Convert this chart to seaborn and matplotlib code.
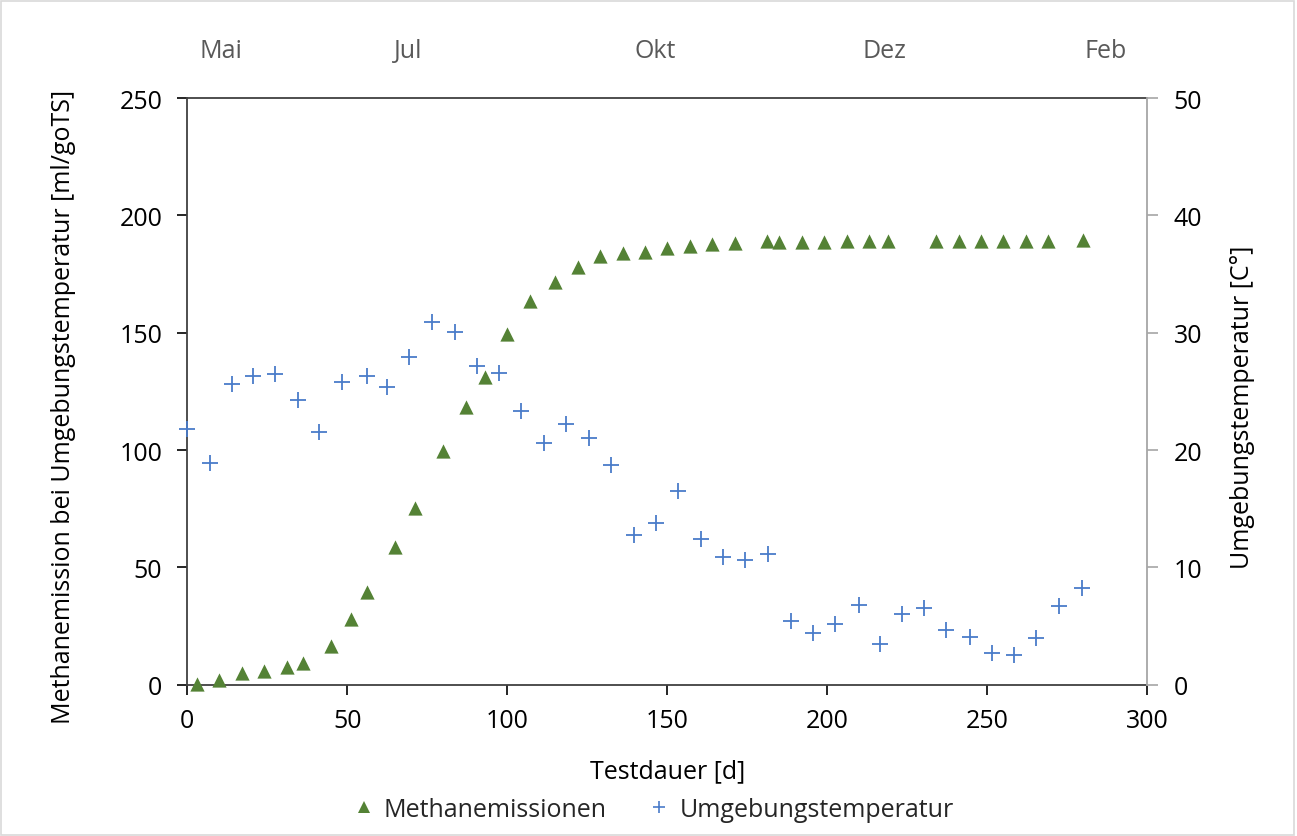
import matplotlib
matplotlib.use("Agg")
import matplotlib.pyplot as plt
import seaborn as sns
from matplotlib.patches import Rectangle
from matplotlib.lines import Line2D

# ---- data ----
methan_tage = [3, 10, 17, 24, 31, 36, 45, 51, 56, 65, 71, 80, 87, 93, 100, 107, 115, 122,
               129, 136, 143, 150, 157, 164, 171, 181, 185, 192, 199, 206, 213, 219, 234,
               241, 248, 255, 262, 269, 280]
methan_werte = [0.3, 2.1, 5.0, 6.0, 7.5, 9.2, 16.4, 28.0, 39.4, 58.8, 75.3, 99.5, 118.2,
                131.3, 149.4, 163.6, 171.8, 177.9, 182.7, 183.9, 184.4, 186.0, 187.1, 187.9,
                188.2, 189.0, 188.8, 188.7, 188.7, 189.3, 189.0, 189.0, 189.0, 189.0, 189.3,
                189.0, 189.3, 189.3, 189.7]
temp_tage = [0, 7, 14, 20.5, 27.5, 34.5, 41.3, 48.4, 56, 62.5, 69.4, 76.5, 83.6, 90.4, 97.5,
             104.4, 111.5, 118.3, 125.4, 132.5, 139.5, 146.5, 153.4, 160.4, 167.5, 174.3,
             181.3, 188.6, 195.4, 202.4, 209.8, 216.4, 223.4, 230.2, 237.2, 244.4, 251.5,
             258.4, 265.2, 272.3, 279.6]
temp_werte = [21.8, 18.9, 25.6, 26.3, 26.5, 24.3, 21.5, 25.8, 26.3, 25.4, 27.9, 30.9, 30.1,
              27.2, 26.6, 23.3, 20.6, 22.2, 21.0, 18.7, 12.8, 13.8, 16.5, 12.4, 10.9, 10.6,
              11.1, 5.4, 4.4, 5.2, 6.8, 3.5, 6.0, 6.5, 4.7, 4.1, 2.7, 2.5, 4.0, 6.7, 8.2]
monate = ["Mai", "Jul", "Okt", "Dez", "Feb"]
monat_pos = [10.5, 69, 146.2, 217.8, 286.8]
x_ticks = [0, 50, 100, 150, 200, 250, 300]
y_ticks = [0, 50, 100, 150, 200, 250]
y2_ticks = [0, 10, 20, 30, 40, 50]

GREEN = "#548235"
BLUE = "#4a7cc9"

sns.set_theme(style="white")
plt.rcParams["font.family"] = ["Open Sans", "DejaVu Sans"]

fig = plt.figure(figsize=(12.97, 8.37), dpi=100)
ax = fig.add_axes([0.1444, 0.1808, 0.7403, 0.7007])
ax2 = ax.twinx()

sns.scatterplot(x=methan_tage, y=methan_werte, marker="^", color=GREEN, s=105,
                linewidth=0, ax=ax, zorder=3, clip_on=False)
sns.scatterplot(x=temp_tage, y=temp_werte, marker="+", color=BLUE, s=140,
                linewidth=1.3, ax=ax2, zorder=3, clip_on=False)

ax.set_xlim(0, 300)
ax.set_ylim(0, 250)
ax2.set_ylim(0, 50)
ax.set_xticks(x_ticks)
ax.set_yticks(y_ticks)
ax2.set_yticks(y2_ticks)

fs = 18
ax.tick_params(axis="both", labelsize=fs, colors="#000000", direction="out",
               length=7, width=1.2, left=True, bottom=True)
ax.tick_params(axis="y", pad=11)
ax.tick_params(axis="x", pad=10)
ax2.tick_params(axis="y", labelsize=fs, labelcolor="#000000", color="#a6a6a6",
                direction="out", length=8, width=1.2, right=True, pad=11)

for side in ["left", "bottom", "top"]:
    ax.spines[side].set_visible(True)
    ax.spines[side].set_color("#404040")
    ax.spines[side].set_linewidth(1.3)
ax.spines["right"].set_visible(False)
for side in ["left", "bottom", "top"]:
    ax2.spines[side].set_visible(False)
ax2.spines["right"].set_visible(True)
ax2.spines["right"].set_color("#a6a6a6")
ax2.spines["right"].set_linewidth(1.3)

ax.set_xlabel("Testdauer [d]", fontsize=fs, color="#000000")
ax.xaxis.set_label_coords(0.5, -0.125)
ax.set_ylabel("Methanemission bei Umgebungstemperatur [ml/goTS]", fontsize=fs,
              color="#000000")
ax.yaxis.set_label_coords(-0.116, 0.475)
ax2.set_ylabel("Umgebungstemperatur [C°]", fontsize=fs, color="#000000")
ax2.yaxis.set_label_coords(1.086, 0.475)

for name, pos in zip(monate, monat_pos):
    ax.text(pos, 1.0805, name, transform=ax.get_xaxis_transform(), ha="center",
            va="center", fontsize=fs, color="#595959")

handles = [
    Line2D([], [], linestyle="none", marker="^", color=GREEN, markersize=8,
           markeredgewidth=0),
    Line2D([], [], linestyle="none", marker="+", color=BLUE, markersize=9,
           markeredgewidth=1.2),
]
fig.legend(handles, ["Methanemissionen", "Umgebungstemperatur"], loc="center",
           bbox_to_anchor=(0.503, 0.032), ncol=2, frameon=False, fontsize=fs,
           handletextpad=0.3, columnspacing=1.6, handlelength=1.0)

fig.patches.append(Rectangle((0.001, 0.001), 0.997, 0.997, transform=fig.transFigure,
                             fill=False, edgecolor="#d9d9d9", linewidth=1.2))

fig.savefig("out.png", dpi=100, facecolor="white")
